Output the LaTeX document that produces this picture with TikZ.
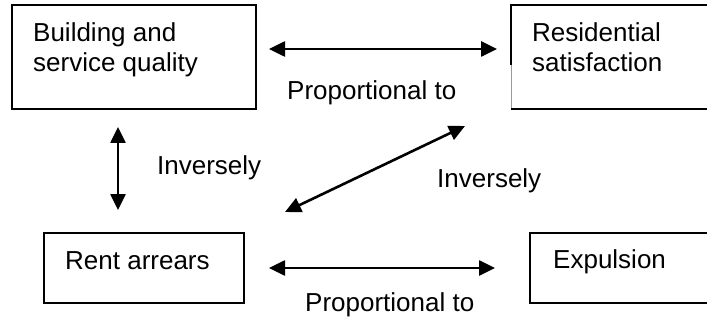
\documentclass[tikz,border=0pt]{standalone}
\usepackage{fontspec}
\setmainfont{Liberation Sans}
\usetikzlibrary{arrows.meta,calc}
\begin{document}
\begin{tikzpicture}[x=1pt,y=-1pt,
  every node/.style={font=\fontsize{26}{30}\selectfont},
  frame/.style={draw, line width=1.5pt, inner sep=0pt, outer sep=0pt, anchor=north west},
  txt/.style={inner sep=0pt, anchor=base west, align=left},
  link/.style={line width=2.6pt, {Triangle[length=16pt,width=15pt]}-{Triangle[length=16pt,width=15pt]}}]
  \useasboundingbox (0,0) rectangle (707,326);
  \clip (0,0) rectangle (707,326);

  % boxes
  \node[frame, minimum width=244pt, minimum height=104pt] (b1) at (12,5) {};
  \node[frame, draw=none, minimum width=260pt, minimum height=104pt] (b2) at (511,5) {};
  \draw[line width=1.5pt] (b2.north east) -- (b2.north west) -- ($(b2.north west)+(0,60)$);
  \draw[line width=0.8pt, black!40] ($(b2.north west)+(0,60)$) -- (b2.south west);
  \draw[line width=1.5pt] (b2.south west) -- (b2.south east);
  \node[frame, minimum width=200pt, minimum height=70pt] (b3) at (44,233) {};
  \node[frame, minimum width=240pt, minimum height=70pt] (b4) at (530,233) {};

  % box texts (base anchor sits on the last line)
  \node[txt] (t1) at (33,72) {Building and\\service quality};
  \node[txt] (t2) at (532,72) {Residential\\satisfaction};
  \node[txt] (t3) at (65,269) {Rent arrears};
  \node[txt] (t4) at (553,268) {Expulsion};

  % relation labels
  \node[txt] (p1) at (287,100) {Proportional to};
  \node[txt] (p2) at (305,311) {Proportional to};
  \node[txt] (i1) at (157,175) {Inversely};
  \node[txt] (i2) at (437,187) {Inversely};

  % connector ends
  \coordinate (c1) at ($(b1.north east)+(13,44)$);
  \coordinate (c2) at ($(b2.north west)+(-14,44)$);
  \coordinate (c3) at ($(b3.east)+(25,0)$);
  \coordinate (c4) at ($(b4.west)+(-35,0)$);
  \coordinate (c5) at (118,127);
  \coordinate (c6) at (118,210);
  \coordinate (c7) at (285,212);
  \coordinate (c8) at (465,126);

  % connectors
  \draw[link] (c1) -- (c2);
  \draw[link] (c3) -- (c4);
  \draw[link] (c5) -- (c6);
  \draw[link] (c7) -- (c8);
\end{tikzpicture}
\end{document}
